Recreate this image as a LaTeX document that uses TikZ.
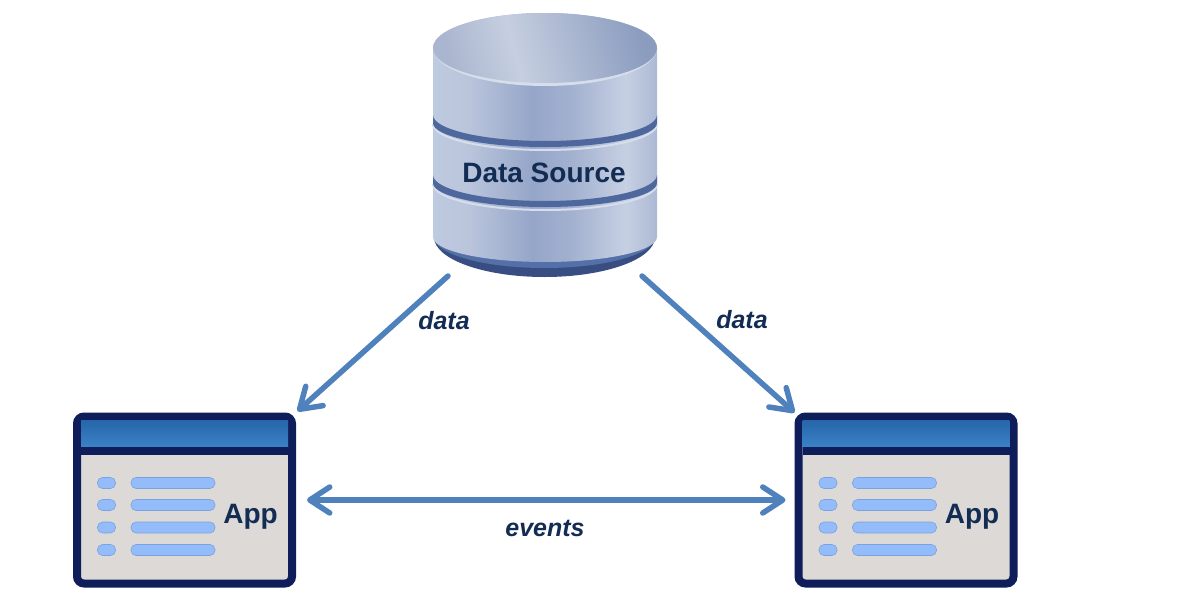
\documentclass[tikz,border=0pt]{standalone}
\usepackage{fontspec}
\setmainfont{Liberation Sans}
\usepackage{tikz}
\definecolor{navyframe}{RGB}{15, 30, 90}
\definecolor{labelink}{RGB}{18, 44, 84}
\definecolor{flowblue}{RGB}{79, 129, 189}
\definecolor{panelbg}{RGB}{220, 217, 215}
\definecolor{rowfill}{RGB}{148, 187, 250}
\definecolor{rowedge}{RGB}{120, 163, 222}
\definecolor{titletop}{RGB}{38, 102, 170}
\definecolor{titlebot}{RGB}{60, 130, 198}
\definecolor{bandblue}{RGB}{78, 104, 158}
\definecolor{basedark}{RGB}{56, 78, 130}
\definecolor{baselight}{RGB}{84, 112, 168}
\definecolor{drumA}{RGB}{190, 202, 224}
\definecolor{drumB}{RGB}{186, 197, 220}
\definecolor{drumC}{RGB}{150, 166, 201}
\definecolor{drumD}{RGB}{163, 177, 208}
\definecolor{drumE}{RGB}{198, 208, 227}
\definecolor{drumF}{RGB}{172, 185, 212}
\definecolor{lidA}{RGB}{170, 182, 207}
\definecolor{lidB}{RGB}{198, 207, 224}
\definecolor{lidC}{RGB}{139, 156, 191}
\definecolor{rimlight}{RGB}{214, 221, 235}
\usetikzlibrary{arrows.meta}
\pgfdeclarehorizontalshading{drumbody}{100bp}{color(0bp)=(drumA);color(25bp)=(drumA);color(33bp)=(drumB);color(47bp)=(drumC);color(56bp)=(drumD);color(68bp)=(drumE);color(75bp)=(drumF);color(100bp)=(drumF)}
\pgfdeclarehorizontalshading{drumlid}{100bp}{color(0bp)=(lidA);color(25bp)=(lidA);color(42bp)=(lidB);color(75bp)=(lidC);color(100bp)=(lidC)}

\begin{document}
\begin{tikzpicture}[x=1pt, y=-1pt, >={Straight Barb[length=20pt,width=26pt,round]},
  every node/.style={text=labelink},
  flowarrow/.style={line width=5.5pt, draw=flowblue, line cap=round, preaction={draw=black!20, transform canvas={shift={(1.5pt,-1.5pt)}}}},
  flowlabel/.style={font=\fontsize{25}{28}\selectfont\bfseries\itshape},
  boxlabel/.style={font=\fontsize{28}{32}\selectfont\bfseries},
  appbox/.style={draw=navyframe, line width=8pt, rounded corners=7pt, fill=panelbg, inner sep=0pt, outer sep=4pt, minimum width=215pt, minimum height=167pt},
  rowbar/.style={draw=rowedge, fill=rowfill, rounded corners=5pt, line width=0.6pt}]
  \useasboundingbox (0,0) rectangle (1200,597);

  \fill[basedark] (434,237) arc[start angle=180, end angle=0, x radius=110.5, y radius=40] -- cycle;
  \fill[baselight] (434,237) arc[start angle=180, end angle=0, x radius=110.5, y radius=31] -- cycle;
  \shade[shading=drumbody] (433,48) -- (433,237) arc[start angle=180, end angle=0, x radius=112, y radius=25] -- (657,48) arc[start angle=0, end angle=-180, x radius=112, y radius=35] -- cycle;
  \foreach \bandy in {115,175} {
    \draw[rimlight, line width=2pt] (433,\bandy+9) arc[start angle=180, end angle=0, x radius=112, y radius=26];
    \fill[bandblue] (433,\bandy) arc[start angle=180, end angle=0, x radius=112, y radius=26] -- (657,\bandy+8) arc[start angle=0, end angle=180, x radius=112, y radius=24] -- cycle;
  }
  \fill[rimlight] (433,48) arc[start angle=180, end angle=0, x radius=112, y radius=38] -- cycle;
  \shade[shading=drumlid, shading angle=15] (433,48) arc[start angle=180, end angle=0, x radius=112, y radius=35] arc[start angle=0, end angle=-180, x radius=112, y radius=35] -- cycle;

  \node[minimum width=194pt, minimum height=263pt, inner sep=0pt, outer sep=0pt] (source) at (545,144.5) {};
  \node[boxlabel] (sourcelabel) at (544,173) {Data Source};

  \foreach \appname/\ox in {appL/0, appR/721.5} {
    \node[appbox] (\appname) at (184.5+\ox,500) {};
    \fill[top color=titletop, bottom color=titlebot] (81+\ox,420) rectangle (288+\ox,447);
    \fill[navyframe] (81+\ox,447) rectangle (288+\ox,455);
    \foreach \rowy in {483,505,527.5,550} {
      \draw[rowbar] (97.5+\ox,\rowy-5.5) rectangle (115.5+\ox,\rowy+5.5);
      \draw[rowbar] (131+\ox,\rowy-5.5) rectangle (215+\ox,\rowy+5.5);
    }
    \node[boxlabel] (\appname label) at (250.5+\ox,517) {App};
  }

  \draw[->, flowarrow, shorten >=2pt] (source.south west) -- (appL.north east);
  \draw[->, flowarrow] (source.south east) -- (appR.north west);
  \draw[<->, flowarrow, shorten <=11pt, shorten >=9pt] (appL.east) -- (appR.west);

  \node[flowlabel] (dataleft) at (444,321) {data};
  \node[flowlabel] (dataright) at (742,320) {data};
  \node[flowlabel] (eventslabel) at (545,528) {events};
\end{tikzpicture}
\end{document}
